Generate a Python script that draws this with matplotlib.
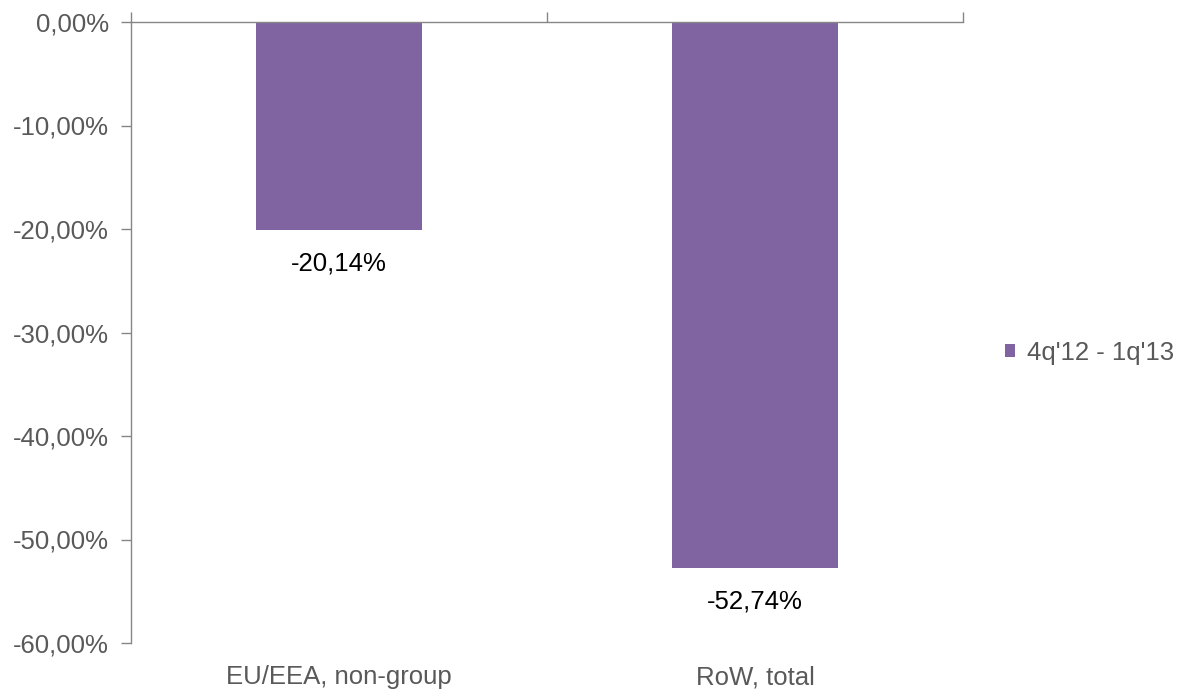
import matplotlib.pyplot as plt
from matplotlib.transforms import blended_transform_factory

categories = ["EU/EEA, non-group", "RoW, total"]
values = [-20.14, -52.74]
series_name = "4q'12 - 1q'13"
yticks = [0, -10, -20, -30, -40, -50, -60]

bar_color = '#8064A2'
axis_color = '#868686'
text_color = '#595959'
fs = 18.5

plt.rcParams['font.family'] = ['Liberation Sans', 'DejaVu Sans']

fig = plt.figure(figsize=(11.81, 6.89), dpi=100)
ax = fig.add_axes([131 / 1181, 1 - 643 / 689, (963 - 131) / 1181, (643 - 22) / 689])

x = list(range(len(categories)))
ax.bar(x, values, width=0.4, color=bar_color, label=series_name, zorder=2)

ax.set_xlim(-0.5, len(categories) - 0.5)
ax.set_ylim(-60, 0)

# y axis
ax.set_yticks(yticks)
ax.set_yticklabels([('%.2f%%' % v).replace('.', ',') for v in yticks])
ax.tick_params(axis='y', colors=axis_color, labelcolor=text_color, labelsize=fs,
               length=7, width=1, direction='out', pad=9)

# category axis sits on the zero line (top), tick marks between categories
ax.xaxis.tick_top()
ax.set_xticks([i - 0.5 for i in range(len(categories) + 1)])
ax.set_xticklabels([])
ax.tick_params(axis='x', colors=axis_color, length=7, width=1, direction='out')

for s in ['right', 'bottom']:
    ax.spines[s].set_visible(False)
for s in ['left', 'top']:
    ax.spines[s].set_color(axis_color)
    ax.spines[s].set_linewidth(1)

# category labels below the plot
trans = blended_transform_factory(ax.transData, ax.transAxes)
for xi, name in zip(x, categories):
    ax.text(xi, -0.055, name, transform=trans, ha='center', va='center',
            fontsize=fs, color=text_color)

# data labels
for xi, v in zip(x, values):
    ax.annotate(('%.2f%%' % v).replace('.', ','), (xi, v), xytext=(0, -24),
                textcoords='offset points', ha='center', va='center',
                fontsize=fs, color='black')

fig.legend(loc='center left', bbox_to_anchor=(995 / 1181, 1 - 353 / 689),
           frameon=False, fontsize=fs, labelcolor=text_color, borderaxespad=0,
           handlelength=0.39, handleheight=0.39, handletextpad=0.47)

fig.savefig('out.png', dpi=100)
